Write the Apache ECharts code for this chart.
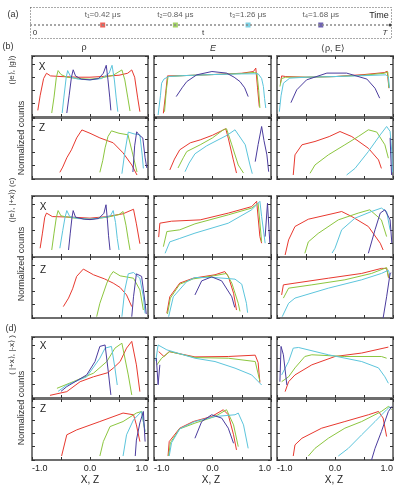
<!DOCTYPE html>
<html>
<head>
<meta charset="utf-8">
<script src="https://cdn.jsdelivr.net/npm/echarts@6/dist/echarts.min.js"></script>
<style>
  html, body { margin: 0; padding: 0; background: #fff; }
  #chart { width: 399px; height: 486px; }
</style>
</head>
<body>
<div id="chart"></div>
<script>
// timeline (a)
const times = [0.42, 0.84, 1.26, 1.68]
const timeLabels = ['t\u2081=0.42 \u03bcs', 't\u2082=0.84 \u03bcs', 't\u2083=1.26 \u03bcs', 't\u2084=1.68 \u03bcs']
const timeEnd = 2.08

// curves: [red t1, green t2, cyan t3, purple t4], each [[x, counts]]
const b_rho_X = [
  [[-0.9,0.5],[-0.86,1.6],[-0.8,2.9],[-0.75,3.3],[-0.68,3.1],[-0.5,3.05],[-0.2,3.0],[0,3.0],[0.2,3.05],[0.5,3.15],[0.65,3.3],[0.72,3.55],[0.77,3.0],[0.82,1.5],[0.86,0.4]],
  [[-0.66,0.3],[-0.62,1.5],[-0.58,3.0],[-0.55,3.5],[-0.5,3.2],[-0.4,3.0],[-0.2,2.9],[0,2.85],[0.2,2.95],[0.4,3.15],[0.55,3.55],[0.6,2.8],[0.65,1.5],[0.69,0.45]],
  [[-0.48,0.3],[-0.45,1.5],[-0.41,3.0],[-0.385,3.5],[-0.33,3.0],[-0.2,2.85],[0,2.8],[0.2,2.9],[0.33,3.3],[0.38,3.9],[0.42,2.8],[0.45,1.5],[0.48,0.4]],
  [[-0.4,0.3],[-0.36,1.6],[-0.32,3.0],[-0.29,3.56],[-0.25,3.1],[-0.15,2.85],[0,2.8],[0.15,2.9],[0.23,3.3],[0.28,3.9],[0.31,2.8],[0.34,1.5],[0.36,0.5]]
]
const b_rho_Z = [
  [[-0.52,0.5],[-0.47,0.9],[-0.4,1.6],[-0.32,2.2],[-0.23,3.1],[-0.14,3.7],[-0.12,3.8],[0,3.45],[0.17,3.1],[0.4,2.73],[0.57,1.97],[0.72,1.06],[0.81,0.3]],
  [[0.17,0.5],[0.22,1.4],[0.26,2.35],[0.31,3.2],[0.37,3.63],[0.5,3.45],[0.655,3.33],[0.74,1.82],[0.81,0.53]],
  [[0.55,0.4],[0.6,2.0],[0.66,3.54],[0.76,3.4],[0.86,3.33],[0.9,1.8],[0.92,0.8]],
  [[0.74,0.53],[0.77,2.5],[0.805,3.56],[0.85,3.3],[0.91,3.1],[0.95,1.6],[0.98,0.83]]
]
const b_E_X = [
  [[-0.84,0.28],[-0.8,1.8],[-0.77,3.1],[-0.5,3.12],[0,3.2],[0.5,3.3],[0.7,3.43],[0.74,3.69],[0.77,2.2],[0.8,0.78]],
  [[-0.82,0.4],[-0.79,2.0],[-0.76,3.05],[-0.5,3.12],[0,3.2],[0.5,3.28],[0.72,3.36],[0.76,3.3],[0.79,2.0],[0.81,0.68]],
  [[-0.93,0.15],[-0.89,1.6],[-0.87,2.55],[-0.83,2.86],[-0.75,3.05],[-0.5,3.12],[0,3.2],[0.5,3.25],[0.78,3.26],[0.84,2.9],[0.87,2.3],[0.89,1.4],[0.91,0.68]],
  [[-0.62,1.54],[-0.52,2.2],[-0.44,2.67],[-0.27,3.18],[-0.01,3.43],[0.24,3.31],[0.37,3.0],[0.47,2.67],[0.55,2.2],[0.61,1.54]]
]
const b_RE_X = [
  [[-0.94,2.55],[-0.92,3.1],[-0.85,3.05],[-0.5,3.0],[0,3.05],[0.5,3.2],[0.85,3.35],[0.9,3.45],[0.92,3.6],[0.93,2.17]],
  [[-0.95,2.3],[-0.92,2.9],[-0.85,3.0],[-0.5,3.0],[0,3.05],[0.5,3.15],[0.85,3.3],[0.91,3.4],[0.93,2.2]],
  [[-0.96,0.4],[-0.93,1.6],[-0.89,2.55],[-0.78,2.93],[-0.5,3.0],[0,3.05],[0.5,3.12],[0.88,3.18],[0.92,3.0],[0.94,2.2]],
  [[-0.76,1.08],[-0.66,2.05],[-0.49,2.8],[-0.14,3.31],[0.2,3.31],[0.55,2.86],[0.69,2.17],[0.77,1.42]]
]
const b_E_Z = [
  [[-0.73,0.68],[-0.65,1.5],[-0.56,2.2],[-0.38,2.73],[-0.21,2.95],[0,3.3],[0.157,3.64],[0.226,3.79],[0.27,3.08],[0.356,1.44],[0.41,0.45]],
  [[-0.59,0.83],[-0.5,1.6],[-0.44,2.07],[-0.21,2.58],[0,3.1],[0.185,3.71],[0.24,3.79],[0.33,2.58],[0.44,1.06],[0.53,0.45]],
  [[-0.47,0.55],[-0.4,1.2],[-0.3,1.9],[-0.1,2.5],[0.043,2.83],[0.25,3.3],[0.385,3.71],[0.41,3.84],[0.56,2.58],[0.64,1.06],[0.68,0.4]],
  [[0.73,1.31],[0.78,2.6],[0.84,3.96],[0.88,2.9],[0.93,1.82],[0.96,0.55]]
]
const b_RE_Z = [
  [[-0.72,0.3],[-0.69,1.82],[-0.57,2.58],[-0.345,2.83],[-0.1,3.2],[0.086,3.58],[0.29,3.2],[0.575,2.32],[0.75,1.44],[0.8,0.8]],
  [[-0.43,0.43],[-0.345,1.06],[-0.115,1.82],[0.17,2.58],[0.4,3.2],[0.575,3.71],[0.72,3.54],[0.86,2.58],[0.92,1.57]],
  [[0.2,0.3],[0.345,0.8],[0.575,2.07],[0.78,3.33],[0.89,3.96],[0.95,3.6],[0.98,2.0],[0.99,0.5]],
  [[0.95,3.1],[0.96,2.0],[0.975,0.3]]
]
const c_rho_X = [
  [[-0.86,0.66],[-0.82,1.8],[-0.78,3.0],[-0.75,3.31],[-0.65,3.05],[-0.3,3.0],[0,2.93],[0.3,3.05],[0.57,3.26],[0.75,3.6],[0.8,2.5],[0.86,1.0]],
  [[-0.66,0.53],[-0.62,1.8],[-0.58,3.0],[-0.55,3.5],[-0.5,3.1],[-0.3,2.95],[0,2.85],[0.3,3.0],[0.5,3.2],[0.57,3.43],[0.62,2.4],[0.66,1.3],[0.69,0.53]],
  [[-0.52,0.66],[-0.47,2.0],[-0.43,3.0],[-0.4,3.5],[-0.35,3.05],[-0.2,2.9],[0,2.85],[0.2,2.95],[0.35,3.1],[0.4,3.5],[0.44,2.6],[0.47,1.4],[0.5,0.53]],
  [[-0.37,0.53],[-0.34,1.8],[-0.31,3.0],[-0.29,3.5],[-0.25,3.0],[-0.1,2.85],[0,2.82],[0.15,2.9],[0.24,3.3],[0.276,3.94],[0.3,2.8],[0.32,1.6],[0.345,0.53]]
]
const c_rho_Z = [
  [[-0.46,0.86],[-0.37,1.5],[-0.3,2.2],[-0.23,3.14],[-0.115,3.69],[0.06,3.26],[0.25,2.95],[0.4,2.63],[0.52,2.3],[0.63,1.74],[0.72,0.86]],
  [[0.115,0.1],[0.17,1.11],[0.29,2.63],[0.35,3.2],[0.4,3.5],[0.52,3.18],[0.75,3.0],[0.86,2.12],[0.92,0.6]],
  [[0.55,0.1],[0.6,2.12],[0.66,3.33],[0.75,3.43],[0.86,3.0],[0.92,1.6],[0.95,0.35]],
  [[0.72,0.1],[0.75,1.6],[0.8,3.33],[0.89,3.14],[0.95,1.14],[0.97,0.3]]
]
const c_E_X = [
  [[-0.92,1.5],[-0.9,2.55],[-0.7,2.7],[-0.21,2.8],[0.27,3.31],[0.67,3.8],[0.755,4.2],[0.81,1.54],[0.84,1.04]],
  [[-0.84,0.78],[-0.78,1.92],[-0.56,2.05],[-0.3,2.5],[0.27,3.18],[0.67,3.69],[0.78,4.06],[0.84,1.14]],
  [[-0.81,0.28],[-0.73,1.14],[-0.56,1.4],[-0.3,1.8],[0.27,2.55],[0.67,3.56],[0.81,4.2],[0.84,3.05],[0.9,1.04]],
  [[0.9,1.54],[0.94,4.06],[0.98,1.04]]
]
const c_RE_X = [
  [[-0.86,0.15],[-0.8,1.29],[-0.69,2.3],[-0.46,2.85],[0,3.31],[0.115,3.43],[0.29,3.05],[0.575,2.3],[0.78,1.04],[0.83,0.53]],
  [[-0.52,0.28],[-0.46,1.14],[-0.29,1.78],[0.057,2.8],[0.4,3.31],[0.6,3.56],[0.8,2.8],[0.89,1.54]],
  [[-0.05,0.3],[0,0.66],[0.115,2.05],[0.345,2.93],[0.63,3.43],[0.8,3.69],[0.89,3.43],[0.95,2.05]],
  [[0.575,0.28],[0.69,2.05],[0.78,3.31],[0.86,3.56],[0.95,2.8],[0.98,1.04]]
]
const c_E_Z = [
  [[-0.78,0.36],[-0.73,1.6],[-0.56,2.63],[-0.33,3.0],[0.043,3.26],[0.21,3.5],[0.27,3.14],[0.36,1.87],[0.41,0.6]],
  [[-0.77,0.3],[-0.72,1.5],[-0.56,2.55],[-0.33,2.95],[0.043,3.2],[0.24,3.36],[0.33,2.63],[0.44,1.11],[0.47,0.5]],
  [[-0.75,0.1],[-0.67,1.6],[-0.44,2.75],[-0.3,3.05],[0.043,3.05],[0.385,2.93],[0.5,2.55],[0.58,1.11],[0.6,0.4]],
  [[-0.3,1.74],[-0.185,2.8],[-0.014,3.1],[0.157,2.8],[0.33,1.6],[0.38,0.8]]
]
const c_RE_Z = [
  [[-0.92,1.74],[-0.89,2.5],[-0.69,2.63],[-0.115,3.0],[0.46,3.36],[0.8,3.74],[0.89,3.74],[0.93,3.0]],
  [[-0.89,1.5],[-0.8,2.25],[-0.4,2.5],[0.17,2.88],[0.63,3.36],[0.89,3.8],[0.92,3.05]],
  [[-0.91,0.1],[-0.8,1.11],[-0.69,1.5],[-0.115,2.25],[0.46,2.88],[0.8,3.36],[0.92,3.6],[0.95,3.2]],
  [[0.83,0.0],[0.89,1.6],[0.95,3.36],[0.97,3.4]]
]
const d_rho_X = [
  [[-0.69,0.2],[-0.4,0.48],[-0.17,1.23],[0.06,1.6],[0.3,1.9],[0.4,2.25],[0.52,2.75],[0.63,3.76],[0.72,4.27],[0.8,2.5],[0.86,0.48]],
  [[-0.57,0.73],[-0.29,1.23],[0.06,1.87],[0.29,2.75],[0.43,3.76],[0.55,4.13],[0.66,1.74],[0.72,0.23]],
  [[-0.55,0.5],[-0.4,0.98],[-0.057,1.6],[0.17,3.0],[0.26,3.76],[0.37,3.89],[0.43,2.25],[0.47,0.98]],
  [[-0.5,0.5],[-0.4,0.86],[-0.057,1.74],[0.086,2.75],[0.17,3.89],[0.26,4.0],[0.315,2.0],[0.36,0.23]]
]
const d_rho_Z = [
  [[-0.49,0.3],[-0.4,1.9],[-0.23,2.27],[0.17,2.9],[0.57,3.54],[0.75,3.41],[0.8,2.65],[0.86,1.39]],
  [[0.17,0.3],[0.23,1.39],[0.345,2.52],[0.57,2.9],[0.8,3.54],[0.89,3.66],[0.95,2.14]],
  [[0.57,0.3],[0.63,1.9],[0.75,3.03],[0.89,3.66],[0.95,2.14]],
  [[0.78,0.3],[0.8,1.5],[0.86,2.8],[0.92,3.66],[0.95,1.39]]
]
const d_E_X = [
  [[-0.92,3.5],[-0.83,3.13],[-0.74,3.5],[-0.3,3.1],[0.27,3.13],[0.73,3.23],[0.78,2.67],[0.81,1.16]],
  [[-0.95,2.5],[-0.87,3.0],[-0.73,3.5],[-0.3,3.05],[0.27,3.0],[0.73,2.75],[0.81,1.27]],
  [[-0.97,2.8],[-0.93,4.0],[-0.78,3.63],[-0.3,3.0],[0.043,2.75],[0.385,2.25],[0.67,1.74],[0.84,0.98]],
  [[-0.96,3.0],[-0.93,1.0],[-0.9,2.5]]
]
const d_RE_X = [
  [[-0.86,0.48],[-0.8,1.23],[-0.69,1.74],[-0.4,2.5],[0,3.13],[0.46,3.39],[0.92,3.84]],
  [[-0.92,1.23],[-0.8,1.6],[-0.69,2.27],[-0.52,3.13],[-0.4,3.26],[0.17,3.13],[0.8,3.13],[0.89,3.0]],
  [[-0.92,1.74],[-0.8,2.75],[-0.72,3.76],[-0.63,3.81],[-0.115,3.26],[0.46,2.75],[0.75,2.27],[0.86,1.6],[0.92,1.11]],
  [[-0.95,1.23],[-0.93,3.89],[-0.89,3.26],[-0.83,0.98]]
]
const d_E_Z = [
  [[-0.76,0.3],[-0.74,1.39],[-0.56,2.4],[-0.33,2.9],[-0.014,3.28],[0.185,3.79],[0.27,3.41],[0.36,1.9],[0.41,0.76]],
  [[-0.75,0.3],[-0.72,1.3],[-0.56,2.35],[-0.3,2.78],[0.043,3.28],[0.24,3.79],[0.36,2.65],[0.44,1.01]],
  [[-0.74,0.3],[-0.7,1.3],[-0.56,2.35],[-0.3,2.9],[0.043,3.28],[0.385,3.41],[0.44,3.54],[0.53,2.65],[0.61,0.88]],
  [[-0.3,1.64],[-0.185,2.9],[-0.014,3.41],[0.157,3.16],[0.27,2.4],[0.36,1.26]]
]
const d_RE_Z = [
  [[-0.72,0.3],[-0.69,1.14],[-0.57,1.64],[-0.23,2.4],[0.17,2.9],[0.575,3.41],[0.75,3.66],[0.83,3.16],[0.89,1.77]],
  [[-0.46,0.3],[-0.345,0.88],[-0.115,1.64],[0.17,2.4],[0.46,2.9],[0.8,3.66],[0.92,4.04],[0.98,3.8]],
  [[0.057,0.3],[0.23,0.88],[0.46,1.9],[0.69,2.9],[0.89,3.79],[0.95,4.04]],
  [[0.63,0.0],[0.69,0.88],[0.8,2.14],[0.92,3.66],[0.98,4.04]]
]

const panels = [
  [b_rho_X, b_E_X, b_RE_X],
  [b_rho_Z, b_E_Z, b_RE_Z],
  [c_rho_X, c_E_X, c_RE_X],
  [c_rho_Z, c_E_Z, c_RE_Z],
  [d_rho_X, d_E_X, d_RE_X],
  [d_rho_Z, d_E_Z, d_RE_Z]
]

const COLORS = ['#e8392f', '#8cc63f', '#5cc5dc', '#4b3c9e']
const COLS = [{ left: 32, width: 116 }, { left: 154, width: 117 }, { left: 277, width: 116 }]
const ROW_TOPS = [56, 118, 196, 257, 337, 399]
const PANEL_H = 61
const FONT = 'Liberation Sans, Arial, sans-serif'

const chart = echarts.init(document.getElementById('chart'), null, { renderer: 'canvas' })

const grid = []
const xAxis = []
const yAxis = []
const series = []

const tickStyle = { show: true, inside: true, length: 3, lineStyle: { color: '#333', width: 1 } }
const noLine = { show: false, onZero: false }

panels.forEach((row, r) => {
  row.forEach((curves, c) => {
    const gi = grid.length
    grid.push({
      left: COLS[c].left, top: ROW_TOPS[r], width: COLS[c].width, height: PANEL_H,
      show: true, borderColor: '#6e6e6e', borderWidth: 1.8, containLabel: false, outerBoundsMode: 'none'
    })
    const last = r === panels.length - 1
    const xi = xAxis.length
    xAxis.push({
      gridIndex: gi, type: 'value', min: -1, max: 1, interval: 0.5, position: 'bottom',
      axisLine: noLine, axisTick: tickStyle, splitLine: { show: false },
      axisLabel: {
        show: last, fontSize: 9, color: '#222', fontFamily: FONT, margin: 4,
        showMinLabel: true, showMaxLabel: true, alignMinLabel: 'left', alignMaxLabel: 'right',
        formatter: v => (v === -1 ? '-1.0' : v === 0 ? '0.0' : v === 1 ? '1.0' : '')
      }
    })
    xAxis.push({
      gridIndex: gi, type: 'value', min: -1, max: 1, interval: 0.5, position: 'top',
      axisLine: noLine, axisTick: tickStyle, axisLabel: { show: false }, splitLine: { show: false }
    })
    const yi = yAxis.length
    yAxis.push({
      gridIndex: gi, type: 'value', min: 0, max: 4.6, interval: 1, position: 'left',
      axisLine: noLine, axisTick: tickStyle, axisLabel: { show: false }, splitLine: { show: false }
    })
    yAxis.push({
      gridIndex: gi, type: 'value', min: 0, max: 4.6, interval: 1, position: 'right',
      axisLine: noLine, axisTick: tickStyle, axisLabel: { show: false }, splitLine: { show: false }
    })
    curves.forEach((pts, k) => {
      series.push({
        type: 'line', xAxisIndex: xi, yAxisIndex: yi, data: pts,
        showSymbol: false, silent: true, animation: false,
        lineStyle: { color: COLORS[k], width: 1 }
      })
    })
  })
})

// (a) timeline
const ga = grid.length
grid.push({ left: 30, top: 8, width: 360, height: 34, show: false, outerBoundsMode: 'none' })
const xa = xAxis.length
xAxis.push({ gridIndex: ga, type: 'value', min: 0, max: timeEnd, show: false })
const ya = yAxis.length
yAxis.push({ gridIndex: ga, type: 'value', min: -1, max: 1, show: false })
series.push({
  type: 'line', xAxisIndex: xa, yAxisIndex: ya, data: [[0, 0], [timeEnd, 0]],
  showSymbol: false, silent: true, animation: false,
  lineStyle: { color: '#8a8a8a', width: 1.5, type: [2, 2] }
})
series.push({
  type: 'scatter', xAxisIndex: xa, yAxisIndex: ya, silent: true, animation: false,
  symbol: 'rect', symbolSize: 5,
  data: times.map((t, i) => ({
    value: [t, 0], itemStyle: { color: COLORS[i] },
    label: { show: true, position: 'top', distance: 4, formatter: timeLabels[i], fontSize: 8, color: '#333', fontFamily: FONT }
  }))
})
series.push({
  type: 'scatter', xAxisIndex: xa, yAxisIndex: ya, silent: true, animation: false,
  symbol: 'circle', symbolSize: 3, itemStyle: { color: '#111' }, data: [[timeEnd, 0]]
})

const txt = (x, y, text, opts = {}) => ({
  type: 'text', x, y, rotation: opts.rot || 0, silent: true,
  style: {
    text, fontSize: opts.size || 9, fill: opts.color || '#333', fontFamily: FONT,
    fontStyle: opts.italic ? 'italic' : 'normal',
    align: opts.align || 'center', verticalAlign: 'middle'
  }
})

const graphic = [
  { type: 'rect', shape: { x: 30.5, y: 7.5, width: 361, height: 31 }, silent: true,
    style: { fill: 'none', stroke: '#555', lineWidth: 1, lineDash: [1, 2] } },
  txt(13, 15, '(a)'),
  txt(379, 16, 'Time', { size: 9, color: '#222' }),
  txt(35, 33, '0', { size: 8 }),
  txt(203, 33, 't', { size: 8 }),
  txt(385, 33, 'T', { size: 8, italic: true }),
  txt(84, 48, '\u03c1', { size: 9 }),
  txt(213, 48, 'E', { size: 9, italic: true }),
  txt(333, 49, '\u27e8\u03c1, E\u27e9', { size: 9 }),
  txt(8, 47, '(b)'),
  txt(12, 70, '(|e\u27e9, |g\u27e9)', { rot: Math.PI / 2, size: 8 }),
  txt(22, 138, 'Normalized counts', { rot: Math.PI / 2, size: 9 }),
  txt(12, 200, '(|e\u27e9, |+x\u27e9) (c)', { rot: Math.PI / 2, size: 8 }),
  txt(22, 264, 'Normalized counts', { rot: Math.PI / 2, size: 9 }),
  txt(11, 329, '(d)'),
  txt(12, 355, '( |+x\u27e9, |-x\u27e9 )', { rot: Math.PI / 2, size: 8 }),
  txt(22, 408, 'Normalized counts', { rot: Math.PI / 2, size: 9 }),
  txt(42, 67, 'X', { size: 10, color: '#222' }),
  txt(42, 128, 'Z', { size: 10, color: '#222' }),
  txt(43, 207, 'X', { size: 10, color: '#222' }),
  txt(43, 270, 'Z', { size: 10, color: '#222' }),
  txt(43, 346, 'X', { size: 10, color: '#222' }),
  txt(43, 409, 'Z', { size: 10, color: '#222' }),
  txt(90, 480, 'X, Z', { size: 10, color: '#222' }),
  txt(211, 480, 'X, Z', { size: 10, color: '#222' }),
  txt(334, 480, 'X, Z', { size: 10, color: '#222' })
]

chart.setOption({
  animation: false,
  backgroundColor: '#fff',
  grid, xAxis, yAxis, series, graphic
})
</script>
</body>
</html>
